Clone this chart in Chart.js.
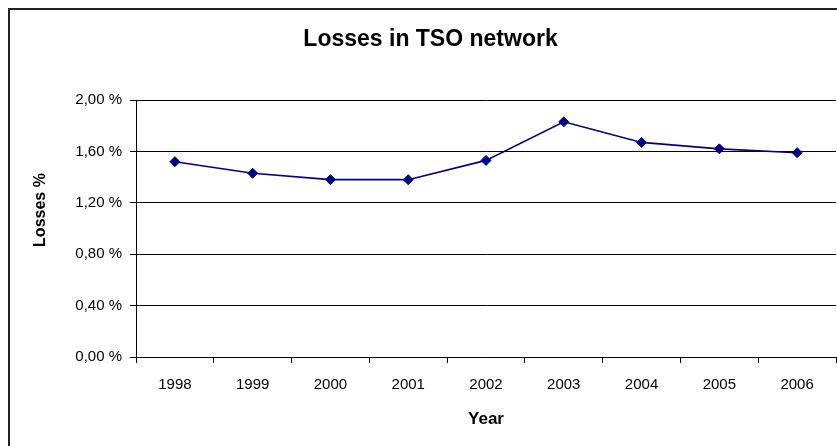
<!DOCTYPE html>
<html>
<head>
<meta charset="utf-8">
<script src="https://cdn.jsdelivr.net/npm/chart.js@4/dist/chart.umd.min.js"></script>
<style>
  html, body { margin: 0; padding: 0; background: #fff; overflow: hidden; }
  body { width: 837px; height: 446px; position: relative; }
  #frame {
    position: absolute; left: 8px; top: 8px; width: 900px; height: 500px;
    border-left: 2px solid #222; border-top: 2px solid #222;
  }
  #wrap { position: absolute; left: 0; top: 0; width: 861px; height: 446px; }
</style>
</head>
<body>
<div id="frame"></div>
<div id="wrap"><canvas id="chart"></canvas></div>
<script>
  // Losses in the TSO network, per year
  const years = ['1998', '1999', '2000', '2001', '2002', '2003', '2004', '2005', '2006'];
  const lossesPct = [1.52, 1.43, 1.38, 1.38, 1.53, 1.83, 1.67, 1.62, 1.59];
  const yTickValues = [0, 0.4, 0.8, 1.2, 1.6, 2.0];
  const yTitle = 'Losses %';

  const navy = '#000080';
  const fontFamily = 'Arial, "Liberation Sans", sans-serif';

  function pct(value) {
    return value.toFixed(2).replace('.', ',') + ' %';
  }

  // the y title sits a bit above the middle of the plot, as in the original
  const yTitlePlugin = {
    id: 'yTitle',
    afterDraw(chart) {
      const ctx = chart.ctx;
      ctx.save();
      ctx.translate(41, 210);
      ctx.rotate(-Math.PI / 2);
      ctx.font = 'bold 16px ' + fontFamily;
      ctx.fillStyle = '#000';
      ctx.textAlign = 'center';
      ctx.textBaseline = 'middle';
      ctx.fillText(yTitle, 0, 0);
      ctx.restore();
    },
  };

  new Chart(document.getElementById('chart'), {
    type: 'line',
    data: {
      labels: years,
      datasets: [{
        label: yTitle,
        data: lossesPct,
        borderColor: navy,
        backgroundColor: navy,
        borderWidth: 1.6,
        tension: 0,
        pointStyle: 'rectRot',
        pointRadius: 5,
        pointHoverRadius: 5,
        pointBorderWidth: 1,
        pointBackgroundColor: navy,
        pointBorderColor: navy,
        fill: false,
      }],
    },
    options: {
      responsive: true,
      maintainAspectRatio: false,
      animation: false,
      layout: { padding: { left: 25, right: 25, top: 0, bottom: 0 } },
      plugins: {
        legend: { display: false },
        tooltip: { enabled: false },
        title: {
          display: true,
          text: 'Losses in TSO network',
          color: '#000',
          font: { family: fontFamily, size: 23, weight: 'bold' },
          padding: { top: 26, bottom: 46.4 },
        },
      },
      scales: {
        x: {
          type: 'category',
          offset: true,
          afterFit: (scale) => { scale.height = 89; },
          grid: {
            offset: true,
            drawOnChartArea: false,
            drawTicks: true,
            tickLength: 6,
            color: '#000',
          },
          border: { color: '#000', width: 1 },
          ticks: {
            color: '#000',
            padding: 13,
            maxRotation: 0,
            font: { family: fontFamily, size: 15 },
          },
          title: {
            display: true,
            text: 'Year',
            color: '#000',
            font: { family: fontFamily, size: 17, weight: 'bold' },
            padding: { top: 0, bottom: 16 },
          },
        },
        y: {
          min: 0,
          max: 2,
          afterFit: (scale) => { scale.width = 111; },
          afterBuildTicks: (scale) => {
            scale.ticks = yTickValues.map((v) => ({ value: v }));
          },
          grid: {
            color: '#000',
            lineWidth: 1,
            tickLength: 6,
          },
          border: { color: '#000', width: 1 },
          ticks: {
            color: '#000',
            padding: 8,
            font: { family: fontFamily, size: 15 },
            callback: (value) => pct(value),
          },
        },
      },
    },
    plugins: [yTitlePlugin],
  });
</script>
</body>
</html>
